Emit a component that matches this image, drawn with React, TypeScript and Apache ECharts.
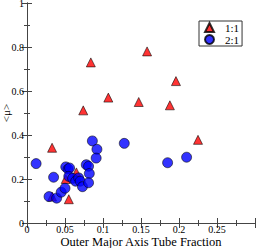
import React, { useEffect, useRef } from "react";
import * as echarts from "echarts";

const ratio11X = [0.033, 0.033, 0.051, 0.055, 0.065, 0.074, 0.084, 0.107, 0.147, 0.158, 0.188, 0.196, 0.225];
const ratio11Y = [0.342, 0.12, 0.2, 0.108, 0.23, 0.512, 0.73, 0.57, 0.55, 0.78, 0.535, 0.645, 0.378];

const ratio21X = [0.012, 0.029, 0.039, 0.035, 0.045, 0.05, 0.051, 0.054, 0.056, 0.055, 0.06, 0.064, 0.068, 0.07, 0.073, 0.078, 0.081, 0.082, 0.081, 0.086, 0.092, 0.091, 0.128, 0.185, 0.21];
const ratio21Y = [0.27, 0.12, 0.113, 0.208, 0.14, 0.158, 0.255, 0.245, 0.25, 0.212, 0.203, 0.19, 0.205, 0.19, 0.165, 0.265, 0.258, 0.225, 0.183, 0.373, 0.335, 0.295, 0.362, 0.274, 0.299];

const seriesNames = ["1:1", "2:1"];
const xTitle = "Outer Major Axis Tube Fraction";
const yTitle = "<μ>";

const FONT = "Liberation Serif";

export default function App() {
  const ref = useRef<HTMLDivElement>(null);
  useEffect(() => {
    if (!ref.current) return;
    const chart = echarts.init(ref.current, null, { renderer: "svg" });
    const lineColor = "#444";
    const common = {
      axisLine: { lineStyle: { color: lineColor, width: 1 } },
      splitLine: { show: false },
    };
    chart.setOption({
      animation: false,
      backgroundColor: "#fff",
      textStyle: { fontFamily: FONT },
      grid: {
        left: 27,
        top: 3,
        right: 2,
        bottom: 25,
        containLabel: false,
        outerBoundsMode: "none",
      },
      legend: {
        left: 199,
        top: 21,
        orient: "vertical",
        borderColor: "#333",
        borderWidth: 1,
        padding: [1, 3, 1, 5],
        itemGap: 1,
        itemWidth: 9,
        itemHeight: 9,
        textStyle: { fontFamily: FONT, fontSize: 11, color: "#000", padding: [0, 0, 0, 6] },
        data: [
          { name: seriesNames[0], icon: "triangle" },
          { name: seriesNames[1], icon: "circle" },
        ],
      },
      xAxis: [
        {
          type: "value",
          min: 0,
          max: 0.3,
          interval: 0.05,
          position: "bottom",
          name: xTitle,
          nameLocation: "middle",
          nameGap: 12,
          nameMoveOverlap: false,
          nameTextStyle: { fontFamily: FONT, fontSize: 12.5, color: "#000" },
          axisLabel: {
            fontFamily: FONT,
            fontSize: 10,
            color: "#000",
            margin: 1,
            showMaxLabel: false,
            formatter: (v: number) => String(Math.round(v * 100) / 100),
          },
          axisTick: { inside: true, length: 5, lineStyle: { color: lineColor } },
          minorTick: { show: true, splitNumber: 2, length: 3, lineStyle: { color: lineColor } },
          ...common,
        },
        {
          type: "value",
          min: 0,
          max: 0.3,
          interval: 0.05,
          position: "top",
          axisLabel: { show: false },
          axisTick: { inside: true, length: 5, lineStyle: { color: lineColor } },
          minorTick: { show: true, splitNumber: 2, length: 3, lineStyle: { color: lineColor } },
          ...common,
        },
      ],
      yAxis: [
        {
          type: "value",
          min: 0,
          max: 1,
          interval: 0.2,
          position: "left",
          name: yTitle,
          nameLocation: "middle",
          nameGap: 16,
          nameMoveOverlap: false,
          nameTextStyle: { fontFamily: FONT, fontSize: 11, color: "#000" },
          axisLabel: {
            fontFamily: FONT,
            fontSize: 10,
            color: "#000",
            margin: 3,
            formatter: (v: number) => String(Math.round(v * 10) / 10),
          },
          axisTick: { inside: true, length: 5, lineStyle: { color: lineColor } },
          minorTick: { show: true, splitNumber: 2, length: 3, lineStyle: { color: lineColor } },
          ...common,
        },
        {
          type: "value",
          min: 0,
          max: 1,
          interval: 0.2,
          position: "right",
          axisLabel: { show: false },
          axisTick: { inside: true, length: 5, lineStyle: { color: lineColor } },
          minorTick: { show: true, splitNumber: 2, length: 3, lineStyle: { color: lineColor } },
          ...common,
        },
      ],
      series: [
        {
          name: seriesNames[0],
          type: "scatter",
          symbol: "triangle",
          symbolSize: 9,
          itemStyle: { color: "#ff0000", borderColor: "#000", borderWidth: 0.7 },
          data: ratio11X.map((x, i) => [x, ratio11Y[i]]),
        },
        {
          name: seriesNames[1],
          type: "scatter",
          symbol: "circle",
          symbolSize: 10,
          itemStyle: { color: "#0000ff", borderColor: "#000", borderWidth: 0.7 },
          data: ratio21X.map((x, i) => [x, ratio21Y[i]]),
        },
      ],
    });
    return () => chart.dispose();
  }, []);
  return (
    <div
      ref={ref}
      style={{ position: "fixed", left: 0, top: 0, width: 257, height: 248 }}
    />
  );
}
